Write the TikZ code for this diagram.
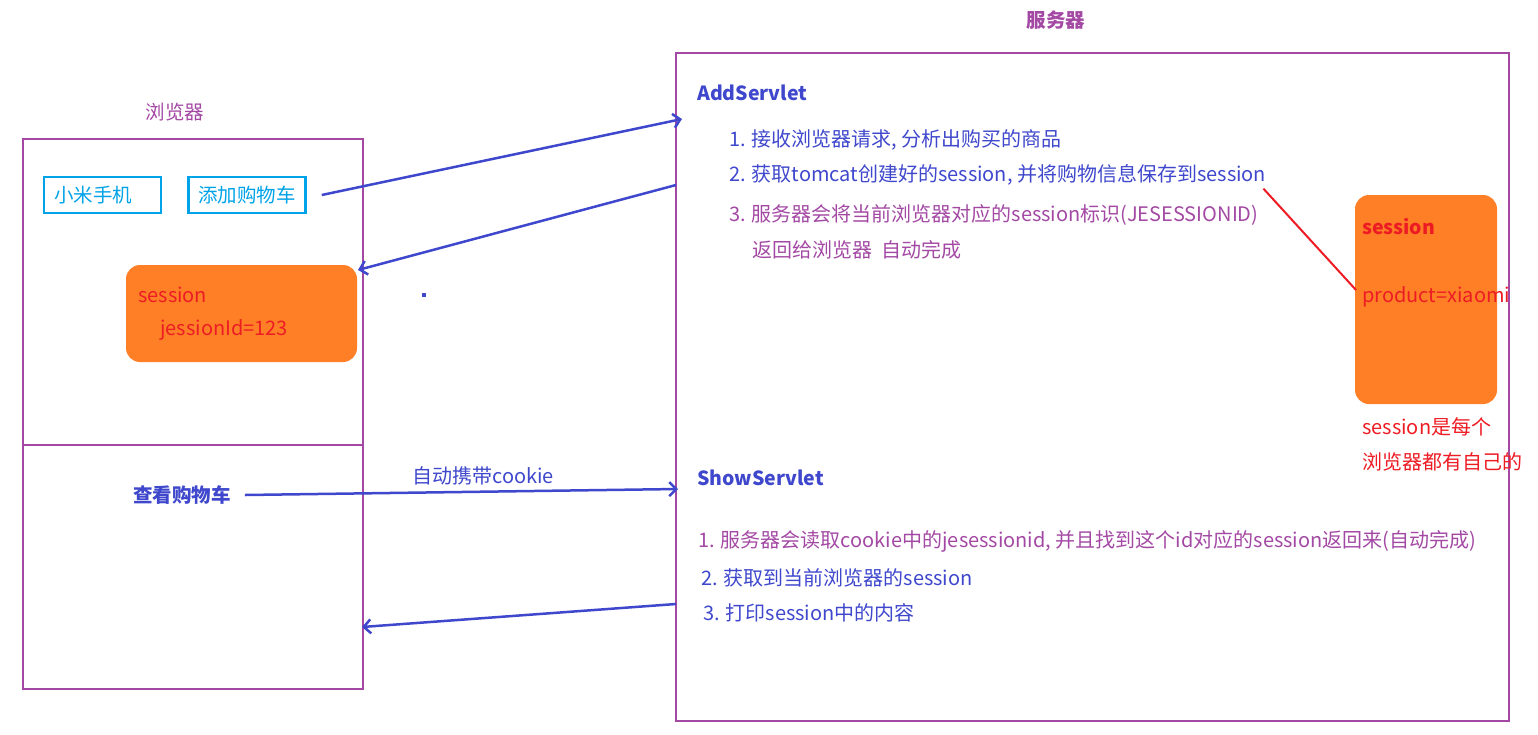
\documentclass[tikz,border=0pt]{standalone}
\usepackage{fontspec}
\setmainfont{Noto Sans CJK SC}
\usetikzlibrary{arrows.meta}
\definecolor{framepurple}{RGB}{163,73,164}
\definecolor{linkblue}{RGB}{63,72,204}
\definecolor{btncyan}{RGB}{0,162,232}
\definecolor{bloborange}{RGB}{255,127,39}
\definecolor{notered}{RGB}{237,28,36}
\begin{document}
\begin{tikzpicture}
  [
    x=1pt, y=-1pt,
    frame/.style =
      {draw=framepurple, line width=2.5pt, inner sep=0pt},
    btn/.style =
      {draw=btncyan, text=btncyan, line width=2.5pt, minimum width=117pt, minimum height=36pt,
       font=\fontsize{19.5}{22}\selectfont},
    blob/.style =
      {fill=bloborange, rounded corners=14pt, inner sep=0pt},
    txt/.style =
      {anchor=west, inner sep=0pt, font=\fontsize{20}{23}\selectfont},
    head/.style =
      {txt, font=\fontsize{19.5}{23}\selectfont\bfseries},
    link/.style =
      {draw=linkblue, line width=2.5pt, -{Straight Barb[length=7pt,width=14pt]}}
  ]
  \useasboundingbox (0,0) rectangle (1538,734);

  % browser side
  \node [text=framepurple, font=\fontsize{19.5}{22}\selectfont] at (175,112) (bt) {浏览器};
  \node [frame, minimum width=340pt, minimum height=550pt] at (193,414) (browser) {};
  \draw [framepurple, line width=2.5pt] (browser.west|-0,445) -- (browser.east|-0,445);
  \node [btn, text width=97pt, align=left] at (102.5,195) (phone) {小米手机};
  \node [btn] at (247,195) (addcart) {添加购物车};
  \node [blob, minimum width=231pt, minimum height=97pt] at (241.5,313.5) (lsess) {};
  \node [txt, text=notered] at (138,295) (lsname) {session};
  \node [txt, text=notered] at (160,330) (lsid) {jessionId=123};
  \node [head, anchor=center, text=linkblue] at (182,495) (view) {查看购物车};
  \fill [linkblue] (422,293) rectangle (426,297);

  % server side
  \node [text=framepurple, font=\fontsize{19.5}{22}\selectfont\bfseries] at (1056,20) (st) {服务器};
  \node [frame, minimum width=833pt, minimum height=668pt] at (1092.5,387) (server) {};
  \node [head, text=linkblue] at (697,93) (add) {AddServlet};
  \node [txt, text=linkblue] at (729,140) (a1) {1. 接收浏览器请求, 分析出购买的商品};
  \node [txt, text=linkblue] at (729,175) (a2) {2. 获取tomcat创建好的session, 并将购物信息保存到session};
  \node [txt, text=framepurple] at (729,215) (a3) {3. 服务器会将当前浏览器对应的session标识(JESESSIONID)};
  \node [txt, text=framepurple] at (752,250) (a4) {返回给浏览器\ \ 自动完成};
  \node [blob, minimum width=142pt, minimum height=209pt] at (1426,299.5) (rsess) {};
  \node [head, text=notered] at (1362,227) (rsname) {session};
  \node [txt, text=notered] at (1362,297) (rsval) {product=xiaomi};
  \node [txt, text=notered] at (1362,427) (n1) {session是每个};
  \node [txt, text=notered] at (1362,462) (n2) {浏览器都有自己的};
  \node [head, text=linkblue] at (697,478) (show) {ShowServlet};
  \node [txt, text=framepurple] at (698,541) (s1) {1. 服务器会读取cookie中的jesessionid, 并且找到这个id对应的session返回来(自动完成)};
  \node [txt, text=linkblue] at (701,578) (s2) {2. 获取到当前浏览器的session};
  \node [txt, text=linkblue] at (703,613) (s3) {3. 打印session中的内容};

  % connector ends
  \coordinate (in1)  at (682,119);
  \coordinate (out1) at (676,185);
  \coordinate (back1) at (358,270);
  \coordinate (in2)  at (678,489);
  \coordinate (out2) at (676,604);
  \coordinate (back2) at (362,627);
  \coordinate (tie) at (1356,290);

  \draw [link] ([xshift=15pt]addcart.east) -- (in1);
  \draw [link] (out1) -- (back1);
  \draw [link] ([xshift=14pt]view.east) -- node [pos=0.55, above=2pt, text=linkblue, font=\fontsize{20}{23}\selectfont] (ck) {自动携带cookie} (in2);
  \draw [link] (out2) -- (back2);
  \draw [notered, line width=2pt] ([xshift=-3pt,yshift=-3pt]a2.south east) -- (tie);
\end{tikzpicture}
\end{document}
